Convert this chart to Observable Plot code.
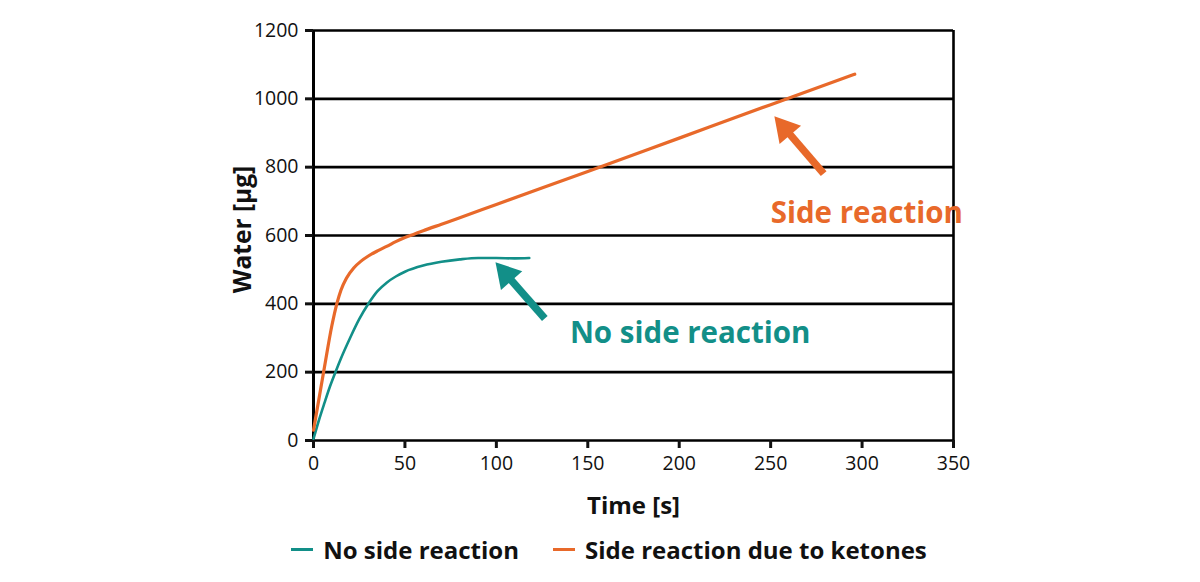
<!DOCTYPE html>
<html>
<head>
<meta charset="utf-8">
<script src="https://cdn.jsdelivr.net/npm/d3@7"></script>
<script src="https://cdn.jsdelivr.net/npm/@observablehq/plot@0.6"></script>
<style>
  html, body { margin: 0; padding: 0; background: #fff; }
  body { width: 1200px; height: 582px; overflow: hidden; font-family: "Open Sans", sans-serif; }
  #legend { display: flex; justify-content: center; align-items: center; gap: 34px; height: 42px; font-weight: 700; font-size: 24px; color: #111; margin-left: 18px; }
  #legend .item { display: flex; align-items: center; }
  #legend .sw { width: 22px; height: 3px; margin-right: 10px; }
</style>
</head>
<body>
<div id="chart"></div>
<div id="legend"></div>
<script>
// Water released over time, with and without a ketone side reaction
const teal = "#128f88";
const orange = "#e8692a";

const seriesNames = ["No side reaction", "Side reaction due to ketones"];
const seriesColors = [teal, orange];

// No side reaction: time [s] / water [µg]
const noSideTime  = [0, 3, 6, 9, 12, 15, 20, 25, 30, 35, 40, 45, 50, 60, 70, 80, 90, 100, 110, 118];
const noSideWater = [5, 60, 110, 158, 200, 240, 300, 355, 400, 437, 462, 480, 494, 512, 523, 530, 534, 534, 533, 534];

// Side reaction due to ketones: time [s] / water [µg]
const sideTime  = [0, 6, 10, 13, 15, 18, 22, 26, 30, 35, 40, 45, 50, 55, 60, 70, 80, 100, 150, 200, 250, 296];
const sideWater = [30, 215, 335, 405, 440, 475, 505, 525, 540, 555, 568, 582, 594, 604, 614, 633, 652, 691, 787, 885, 983, 1072];

const xTicks = [0, 50, 100, 150, 200, 250, 300, 350];
const yTicks = [0, 200, 400, 600, 800, 1000, 1200];

// Callout labels and their arrows (tip points at the curve)
const calloutText  = ["No side reaction", "Side reaction"];
const calloutTime  = [206, 302.6];
const calloutWater = [313, 664];
const arrowTipTime    = [100, 252.5];
const arrowTipWater   = [519, 946];
const arrowTailTime   = [126.5, 279];
const arrowTailWater  = [357, 781];

const W = 1200, H = 528, ML = 313, MR = 247, MT = 30, MB = 88;
const kx = (W - ML - MR) / 350;   // px per second
const ky = (H - MT - MB) / 1200;  // px per µg

const noSide = noSideTime.map((t, i) => ({t, w: noSideWater[i]}));
const side = sideTime.map((t, i) => ({t, w: sideWater[i]}));

// Arrow geometry: shaft from tail to the head's centroid, head rotated along the shaft
const headCentroid = 15;
const arrows = calloutText.map((_, i) => {
  const dx = (arrowTipTime[i] - arrowTailTime[i]) * kx;
  const dy = -(arrowTipWater[i] - arrowTailWater[i]) * ky;
  const len = Math.hypot(dx, dy);
  const ux = dx / len, uy = dy / len;
  return {
    color: seriesColors[i],
    t1: arrowTailTime[i], w1: arrowTailWater[i],
    ct: arrowTipTime[i] - headCentroid * ux / kx,
    cw: arrowTipWater[i] + headCentroid * uy / ky,
    rot: Math.atan2(ux, -uy) * 180 / Math.PI
  };
});

const marks = [
  Plot.ruleY(yTicks, {stroke: "#000", strokeWidth: 2.6}),
  Plot.ruleX([350], {stroke: "#000", strokeWidth: 2.6}),
  Plot.ruleX([0], {stroke: "#000", strokeWidth: 3}),
  Plot.axisX({ticks: xTicks, tickSize: 8, tickPadding: 8, tickFormat: d => String(d), fontSize: 19.5, strokeWidth: 3, label: null}),
  Plot.axisY({ticks: yTicks, tickSize: 8, tickPadding: 7, tickFormat: d => String(d), fontSize: 19.5, strokeWidth: 3, label: null}),
  Plot.text(["Time [s]"], {frameAnchor: "bottom", lineAnchor: "middle", textAnchor: "middle", dy: 66, fontSize: 24, fontWeight: 700, fill: "#111"}),
  Plot.text(["Water [µg]"], {frameAnchor: "left", lineAnchor: "middle", textAnchor: "middle", dx: -70, dy: -6, rotate: -90, fontSize: 24.5, fontWeight: 700, fill: "#111"}),
  Plot.line(noSide, {x: "t", y: "w", stroke: teal, strokeWidth: 2.6, curve: "monotone-x"}),
  Plot.line(side, {x: "t", y: "w", stroke: orange, strokeWidth: 3.2, curve: "monotone-x"})
];

arrows.forEach((a, i) => {
  marks.push(
    Plot.link([a], {x1: "t1", y1: "w1", x2: "ct", y2: "cw", stroke: a.color, strokeWidth: 7.5}),
    Plot.dot([a], {x: "ct", y: "cw", symbol: "triangle", r: 10.5, fill: a.color, stroke: "none", rotate: "rot"}),
    Plot.text([calloutText[i]], {x: () => calloutTime[i], y: () => calloutWater[i], fill: a.color, fontSize: 29.5, fontWeight: 700})
  );
});

const chart = Plot.plot({
  width: W, height: H,
  marginLeft: ML, marginRight: MR, marginTop: MT, marginBottom: MB,
  x: {domain: [0, 350]},
  y: {domain: [0, 1200]},
  style: {fontFamily: "'Open Sans', sans-serif", color: "#111", background: "#fff", overflow: "visible"},
  marks
});
document.getElementById("chart").append(chart);

const legend = document.getElementById("legend");
seriesNames.forEach((name, i) => {
  const item = document.createElement("div");
  item.className = "item";
  const sw = document.createElement("span");
  sw.className = "sw";
  sw.style.background = seriesColors[i];
  const label = document.createElement("span");
  label.textContent = name;
  item.append(sw, label);
  legend.append(item);
});
</script>
</body>
</html>
